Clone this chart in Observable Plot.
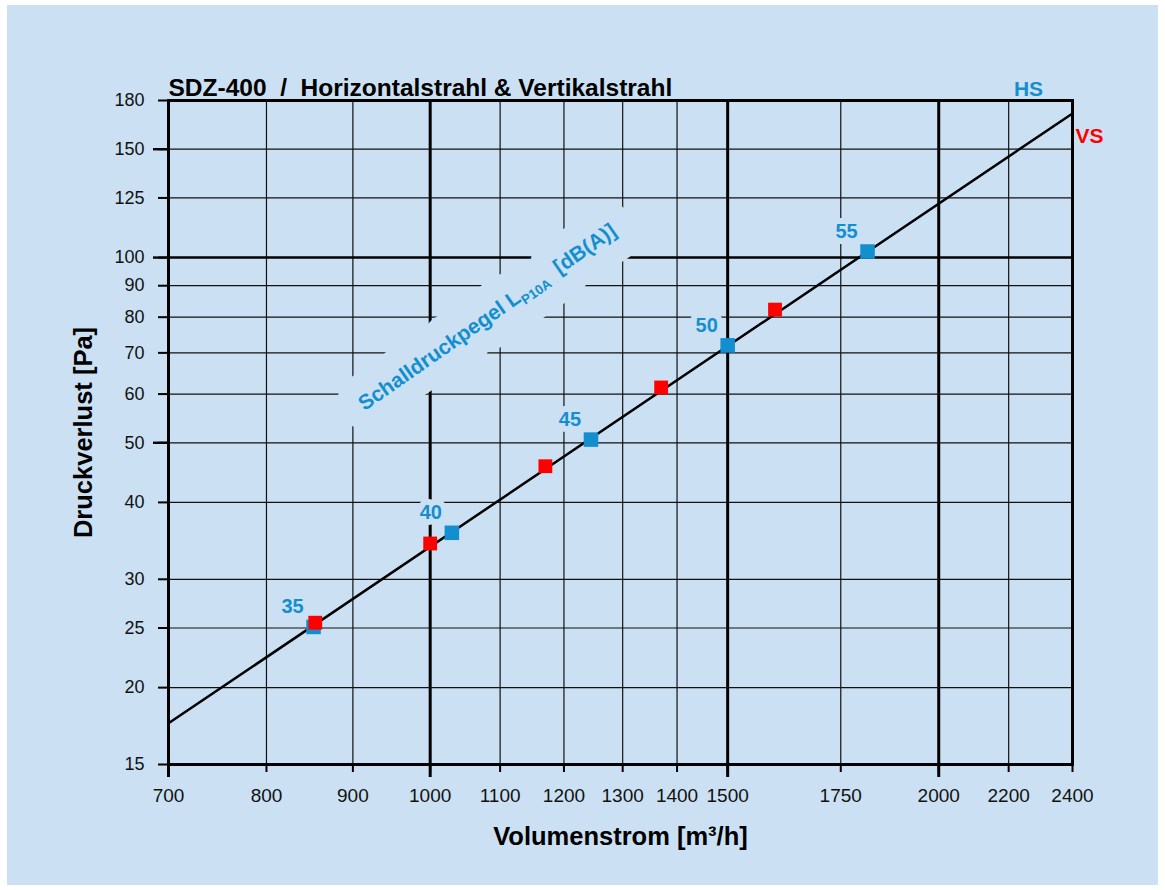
<!DOCTYPE html>
<html><head><meta charset="utf-8">
<script src="https://cdn.jsdelivr.net/npm/d3@7"></script>
<script src="https://cdn.jsdelivr.net/npm/@observablehq/plot@0.6"></script>
<style>
html,body{margin:0;padding:0;background:#fff;}
#chart{position:absolute;left:7px;top:5px;width:1151px;height:880px;background:#cbe1f3;}
#chart svg{font-family:"Liberation Sans",Arial,sans-serif;background:transparent;}
#chart svg text{white-space:pre;}
</style></head><body><div id="chart"></div>
<script>
// ---- data ----
const xThin = [800, 900, 1100, 1200, 1300, 1400, 1750, 2200];
const xThick = [1000, 1500, 2000];
const xTickLabels = [700, 800, 900, 1000, 1100, 1200, 1300, 1400, 1500, 1750, 2000, 2200, 2400];
const xLongTicks = [700, 1000, 1500, 2000];
const yThin = [150, 125, 90, 80, 70, 60, 50, 40, 30, 25, 20];
const yThick = [100];
const yTickLabels = [15, 20, 25, 30, 40, 50, 60, 70, 80, 90, 100, 125, 150, 180];
const yLongTicks = [150, 100, 50];

const hsFlow = [853, 1030, 1245, 1500, 1815];
const hsPressure = [25.1, 35.7, 50.6, 72, 102.3];
const hsLevel = ["35", "40", "45", "50", "55"];
const vsFlow = [855, 1000, 1170, 1370, 1600];
const vsPressure = [25.5, 34.3, 45.8, 61.5, 82.3];
const curveFlow = [700, 2400];
const curvePressure = [17.5, 171.5];

const titleText = "SDZ-400  /  Horizontalstrahl & Vertikalstrahl";
const xLabel = "Volumenstrom [m³/h]";
const yLabel = "Druckverlust [Pa]";
const levelLabel = "Schalldruckpegel LP10A [dB(A)]";
const levelLabelPos = {x: 1081, y: 80};

const BG = "#cbe1f3", BLUE = "#138fcf", RED = "#ff0000";

const hs = hsFlow.map((f, i) => ({flow: f, p: hsPressure[i], level: hsLevel[i]}));
const vs = vsFlow.map((f, i) => ({flow: f, p: vsPressure[i]}));
const curve = curveFlow.map((f, i) => ({flow: f, p: curvePressure[i]}));

const fmt = d => String(d);
const levelOpts = {x: "x", y: "y", text: () => levelLabel, rotate: -35, fontSize: 21, fontWeight: "bold"};

const svg = Plot.plot({
  width: 1151, height: 880,
  marginLeft: 161, marginRight: 86, marginTop: 95, marginBottom: 121,
  style: {background: "transparent", fontFamily: "'Liberation Sans', Arial, sans-serif"},
  x: {type: "log", domain: [700, 2400]},
  y: {type: "log", domain: [15, 180]},
  marks: [
    Plot.ruleX(xThin, {stroke: "#111", strokeWidth: 1.2}),
    Plot.ruleX(xThick, {stroke: "#000", strokeWidth: 3}),
    Plot.ruleY(yThin, {stroke: "#111", strokeWidth: 1.2}),
    Plot.ruleY(yThick, {stroke: "#000", strokeWidth: 2.4}),
    Plot.frame({stroke: "#000", strokeWidth: 3}),
    Plot.axisX({ticks: xTickLabels, tickSize: 8, tickPadding: 16, tickFormat: fmt, fontSize: 19, strokeWidth: 2, label: null, fill: "#111"}),
    Plot.axisX({ticks: xLongTicks, tickSize: 13, tickFormat: () => "", strokeWidth: 3, label: null}),
    Plot.axisY({ticks: yTickLabels, tickSize: 10, tickPadding: 14, tickFormat: fmt, fontSize: 18, strokeWidth: 2, label: null, fill: "#111"}),
    Plot.axisY({ticks: yLongTicks, tickSize: 15, tickFormat: () => "", strokeWidth: 2.4, label: null}),
    // rotated level label: halo then text
    Plot.text([levelLabelPos], {...levelOpts, fill: "none", stroke: BG, strokeWidth: 42, strokeLinejoin: "round"}),
    Plot.text([levelLabelPos], {...levelOpts, fill: BLUE}),
    // number labels with halo
    Plot.text(hs, {x: "flow", y: "p", text: "level", dx: -21, dy: -20, fontSize: 20, fontWeight: "bold",
      fill: BLUE, stroke: BG, strokeWidth: 12, strokeLinejoin: "round", paintOrder: "stroke"}),
    Plot.line(curve, {x: "flow", y: "p", stroke: "#000", strokeWidth: 2.5}),
    Plot.dot(hs, {x: "flow", y: "p", symbol: "square", r: 8.2, fill: BLUE}),
    Plot.dot(vs, {x: "flow", y: "p", symbol: "square", r: 7.8, fill: RED}),
    // titles
    Plot.text([titleText], {frameAnchor: "top-left", textAnchor: "start", lineAnchor: "bottom", dy: -5, fontSize: 24.5, fontWeight: "bold", fill: "#000"}),
    Plot.text(["HS"], {frameAnchor: "top-right", textAnchor: "middle", lineAnchor: "bottom", dx: -44, dy: -5, fontSize: 21, fontWeight: "bold", fill: BLUE}),
    Plot.text(["VS"], {frameAnchor: "top-right", textAnchor: "start", lineAnchor: "middle", dx: 3, dy: 36, fontSize: 21, fontWeight: "bold", fill: RED}),
    Plot.text([xLabel], {frameAnchor: "bottom", textAnchor: "middle", lineAnchor: "middle", dy: 72, fontSize: 25.5, fontWeight: "bold", fill: "#000"}),
    Plot.text([yLabel], {frameAnchor: "left", textAnchor: "middle", lineAnchor: "middle", dx: -85, rotate: -90, fontSize: 25.5, fontWeight: "bold", fill: "#000"})
  ]
});

// subscript in level label
const ns = "http://www.w3.org/2000/svg";
svg.querySelectorAll("text").forEach(t => {
  if (t.textContent === levelLabel) {
    while (t.firstChild) t.removeChild(t.firstChild);
    const a = document.createElementNS(ns, "tspan"); a.textContent = "Schalldruckpegel L";
    const b = document.createElementNS(ns, "tspan"); b.textContent = "P10A"; b.setAttribute("font-size", "13.5"); b.setAttribute("dy", "5");
    const c = document.createElementNS(ns, "tspan"); c.textContent = "  [dB(A)]"; c.setAttribute("dy", "-5");
    t.append(a, b, c);
  }
});
document.getElementById("chart").appendChild(svg);
</script></body></html>
